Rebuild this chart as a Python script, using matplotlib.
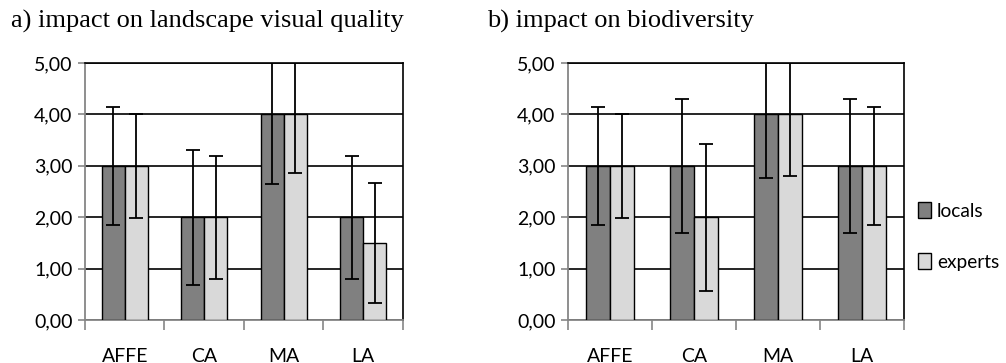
import numpy as np
import matplotlib.pyplot as plt

categories = ['AFFE', 'CA', 'MA', 'LA']
series = ['locals', 'experts']

# a) impact on landscape visual quality
quality_locals = [3.0, 2.0, 4.0, 2.0]
quality_experts = [3.0, 2.0, 4.0, 1.5]
quality_locals_err = [1.15, 1.31, 1.35, 1.20]
quality_experts_err = [1.01, 1.20, 1.15, 1.17]

# b) impact on biodiversity
biodiv_locals = [3.0, 3.0, 4.0, 3.0]
biodiv_experts = [3.0, 2.0, 4.0, 3.0]
biodiv_locals_err = [1.15, 1.30, 1.24, 1.30]
biodiv_experts_err = [1.01, 1.43, 1.20, 1.15]

yticks = [0, 1, 2, 3, 4, 5]
ytick_labels = ['0,00', '1,00', '2,00', '3,00', '4,00', '5,00']

dark = '#808080'
light = '#d9d9d9'
axis_grey = '#868686'
tick_font = 'Lato'
title_font = 'Liberation Serif'

fig = plt.figure(figsize=(10.06, 3.63), dpi=100)


def draw_panel(ax, locals_vals, experts_vals, locals_err, experts_err, title, title_x):
    x = np.arange(len(categories))
    w = 0.29
    ax.bar(x - w / 2, locals_vals, w, color=dark, edgecolor='black', linewidth=1.0,
           zorder=3, label=series[0])
    ax.bar(x + w / 2, experts_vals, w, color=light, edgecolor='black', linewidth=1.0,
           zorder=3, label=series[1])
    ax.errorbar(x - w / 2, locals_vals, yerr=locals_err, fmt='none', ecolor='black',
                elinewidth=1.3, capsize=5, capthick=1.3, zorder=4)
    ax.errorbar(x + w / 2, experts_vals, yerr=experts_err, fmt='none', ecolor='black',
                elinewidth=1.3, capsize=5, capthick=1.3, zorder=4)

    ax.set_xlim(-0.5, len(categories) - 0.5)
    ax.set_ylim(0, 5)
    ax.set_yticks(yticks)
    ax.set_yticklabels(ytick_labels, fontfamily=tick_font, fontsize=14)
    ax.yaxis.grid(True, color='black', linewidth=1.2, zorder=0)
    ax.set_axisbelow(True)

    # category ticks sit between groups, labels sit under centers
    ax.set_xticks(np.arange(-0.5, len(categories), 1.0))
    ax.set_xticklabels([])
    ax.set_xticks(x, minor=True)
    ax.set_xticklabels(categories, minor=True, fontfamily=tick_font, fontsize=14)
    ax.tick_params(axis='x', which='major', length=7, color=axis_grey, width=1.2)
    ax.tick_params(axis='x', which='minor', length=0, pad=20)
    ax.tick_params(axis='y', length=5, color=axis_grey, width=1.2, pad=4)

    ax.spines['left'].set_color(axis_grey)
    ax.spines['bottom'].set_color(axis_grey)
    ax.spines['left'].set_linewidth(1.3)
    ax.spines['bottom'].set_linewidth(1.3)
    ax.spines['top'].set_color('black')
    ax.spines['right'].set_color('black')
    ax.spines['top'].set_linewidth(1.2)
    ax.spines['right'].set_linewidth(1.2)

    fig.text(title_x, 0.925, title, fontfamily=title_font, fontsize=19, ha='left',
             va='baseline')


ax1 = fig.add_axes([0.0845, 0.1185, 0.316, 0.708])
draw_panel(ax1, quality_locals, quality_experts, quality_locals_err, quality_experts_err,
           'a) impact on landscape visual quality', 0.011)

ax2 = fig.add_axes([0.5646, 0.1185, 0.334, 0.708])
draw_panel(ax2, biodiv_locals, biodiv_experts, biodiv_locals_err, biodiv_experts_err,
           'b) impact on biodiversity', 0.484)

leg = ax2.legend(loc='center left', bbox_to_anchor=(0.99, 0.325), frameon=False,
                 prop={'family': tick_font, 'size': 13.8}, handlelength=0.7,
                 handleheight=0.9, handletextpad=0.3, labelspacing=1.75)

fig.savefig('out.png', dpi=100)
